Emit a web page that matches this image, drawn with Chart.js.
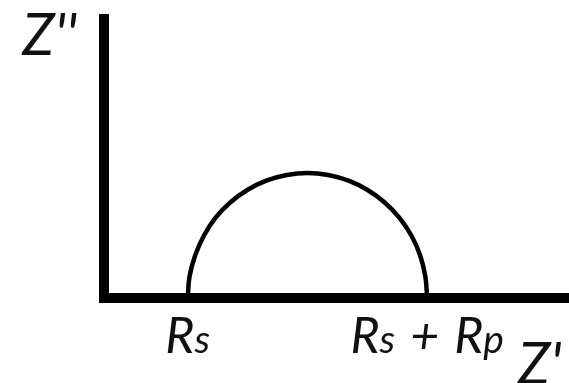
<!DOCTYPE html>
<html><head><meta charset="utf-8">
<script src="https://cdn.jsdelivr.net/npm/chart.js@4/dist/chart.umd.min.js"></script>
<style>html,body{margin:0;background:#fff}#wrap{width:569px;height:383px;position:relative}</style>
</head><body><div id="wrap"><canvas id="c"></canvas></div>
<script>
// Nyquist sketch of a simple Randles cell: series resistance Rs, polarization resistance Rp
const Rs = 1.8;
const Rp = 5.15;
// semicircle points (Z', Z'')
const arcRe = [1.80, 1.84, 1.96, 2.15, 2.40, 2.72, 3.09, 3.49, 3.93, 4.375, 4.82, 5.26, 5.66, 6.03, 6.35, 6.61, 6.80, 6.91, 6.95];
const arcIm = [0, 0.76, 1.50, 2.20, 2.83, 3.37, 3.81, 4.13, 4.33, 4.40, 4.33, 4.13, 3.81, 3.37, 2.83, 2.20, 1.50, 0.76, 0];
// axis frame (Z'' axis down to origin, then along Z')
const frameRe = [0, 0, 10];
const frameIm = [10, 0, 0];
// labels under the Z' axis and axis titles
const tickValues = [Rs, Rs + Rp];
const tickLabels = ['Rs', 'Rs + Rp'];
const xTitle = "Z'";
const yTitle = "Z''";

const toPts = (xs, ys) => xs.map((x, i) => ({ x, y: ys[i] }));
const FONT = '"Lato","Open Sans","DejaVu Sans",sans-serif';

// draws text where the letter after "R" is a smaller glyph; spaces are widened
function drawRich(ctx, text, cx, baseline, size) {
  const parts = [];
  for (let i = 0; i < text.length; i++) {
    const small = i > 0 && text[i - 1] === 'R' && /[a-z]/.test(text[i]);
    parts.push({ t: text[i], s: small ? size * 0.78 : size });
  }
  let w = 0;
  parts.forEach(p => {
    ctx.font = `italic ${p.s}px ${FONT}`;
    p.w = p.t === ' ' ? size * 0.3 : ctx.measureText(p.t).width;
    w += p.w;
  });
  let x = cx - w / 2;
  parts.forEach(p => {
    ctx.font = `italic ${p.s}px ${FONT}`;
    if (p.t !== ' ') ctx.fillText(p.t, x, baseline);
    x += p.w;
  });
}

const labelPlugin = {
  id: 'labels',
  afterDraw(chart) {
    const { ctx, scales: { x, y } } = chart;
    const x0 = x.getPixelForValue(0), y0 = y.getPixelForValue(0);
    ctx.save();
    ctx.fillStyle = '#111';
    ctx.textBaseline = 'alphabetic';
    ctx.textAlign = 'left';
    tickValues.forEach((v, i) => drawRich(ctx, tickLabels[i], x.getPixelForValue(v), y0 + 55, 50));
    ctx.font = `italic 58px ${FONT}`;
    ctx.textAlign = 'right';
    ctx.fillText(yTitle, x0 - 27, y.getPixelForValue(10) + 41);
    ctx.textAlign = 'left';
    ctx.fillText(xTitle, x0 + 414, y0 + 86);
    ctx.restore();
  }
};

new Chart(document.getElementById('c'), {
  type: 'scatter',
  data: {
    datasets: [
      { data: toPts(frameRe, frameIm), showLine: true, borderColor: '#000', borderWidth: 10,
        borderJoinStyle: 'miter', borderCapStyle: 'butt', pointRadius: 0, clip: false },
      { data: toPts(arcRe, arcIm), showLine: true, borderColor: '#000', borderWidth: 4.5,
        tension: 0.4, pointRadius: 0, clip: false }
    ]
  },
  options: {
    responsive: true,
    maintainAspectRatio: false,
    animation: false,
    layout: { padding: { left: 104, right: 0, top: 14, bottom: 85 } },
    plugins: { legend: { display: false }, tooltip: { enabled: false } },
    scales: {
      x: { type: 'linear', min: 0, max: 10, display: false },
      y: { type: 'linear', min: 0, max: 10, display: false }
    }
  },
  plugins: [labelPlugin]
});
</script></body></html>
